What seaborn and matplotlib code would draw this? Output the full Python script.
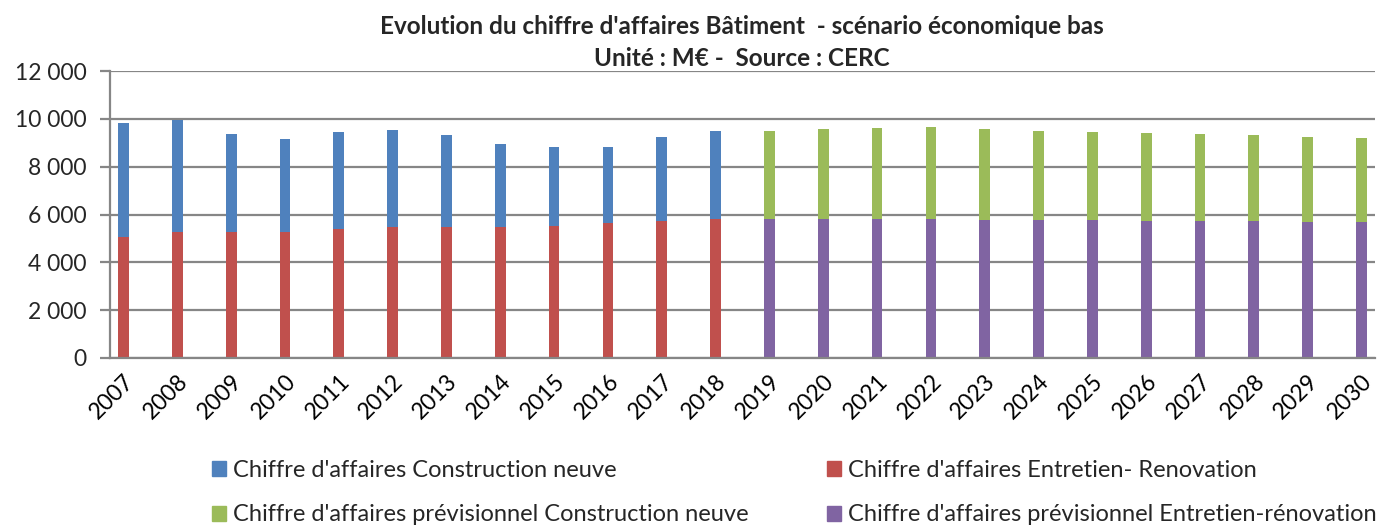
import numpy as np
import pandas as pd
import seaborn as sns
import matplotlib.pyplot as plt
from matplotlib.patches import Patch
from matplotlib.ticker import FuncFormatter

# data (M€)
years = [str(y) for y in range(2007, 2031)]
hist_reno = [5040, 5250, 5280, 5280, 5390, 5460, 5460, 5460, 5530, 5630, 5740, 5810]
hist_neuf = [4780, 4710, 4070, 3890, 4080, 4070, 3860, 3470, 3300, 3180, 3480, 3690]
prev_reno = [5810, 5810, 5810, 5810, 5760, 5760, 5760, 5720, 5720, 5720, 5680, 5680]
prev_neuf = [3700, 3750, 3790, 3830, 3800, 3750, 3710, 3670, 3630, 3590, 3540, 3500]

lbl_neuf = "Chiffre d'affaires Construction neuve"
lbl_reno = "Chiffre d'affaires Entretien- Renovation"
lbl_prev_neuf = "Chiffre d'affaires prévisionnel Construction neuve"
lbl_prev_reno = "Chiffre d'affaires prévisionnel Entretien-rénovation"

BLUE, RED, GREEN, PURPLE = "#4F81BD", "#C0504D", "#9BBB59", "#8064A2"
GRAY = "#868686"

sns.set_theme(style="white")
plt.rcParams["font.family"] = ["Lato", "DejaVu Sans"]

df = pd.DataFrame({
    "annee": years,
    "reno": hist_reno + prev_reno,
    "neuf": hist_neuf + prev_neuf,
    "periode": ["hist"] * len(hist_reno) + ["prev"] * len(prev_reno),
})
df["total"] = df["reno"] + df["neuf"]

fig = plt.figure(figsize=(14, 5.27), dpi=100)
ax = fig.add_axes([110 / 1400, 1 - 358 / 527, 1265 / 1400, 287 / 527])

# stacked bars: total first, then the renovation part on top of it
sns.barplot(data=df, x="annee", y="total", hue="periode", order=years,
            palette={"hist": BLUE, "prev": GREEN}, dodge=False, width=0.2,
            saturation=1, errorbar=None, linewidth=0, legend=False, ax=ax)
sns.barplot(data=df, x="annee", y="reno", hue="periode", order=years,
            palette={"hist": RED, "prev": PURPLE}, dodge=False, width=0.2,
            saturation=1, errorbar=None, linewidth=0, legend=False, ax=ax)

ax.set_xlim(-0.25, 23.25)
ax.set_ylim(0, 12000)
ax.set_yticks(range(0, 12001, 2000))
ax.yaxis.set_major_formatter(FuncFormatter(lambda v, p: f"{int(v):,}".replace(",", " ")))
ax.set_xlabel("")
ax.set_ylabel("")

ax.set_axisbelow(True)
ax.grid(axis="y", color=GRAY, linewidth=1.6)
for s in ["top", "right"]:
    ax.spines[s].set_visible(False)
for s in ["left", "bottom"]:
    ax.spines[s].set_color(GRAY)
    ax.spines[s].set_linewidth(1.6)

ax.set_xticks(range(len(years)))
ax.set_xticklabels(years, rotation=45, ha="right", rotation_mode="anchor")
ax.set_xticks(np.arange(-0.25, 23.26, 0.5), minor=True)
ax.tick_params(axis="x", which="major", length=0, pad=9, labelsize=16.5, colors="black")
ax.tick_params(axis="x", which="minor", length=7, width=1.6, color=GRAY, direction="out")
ax.tick_params(axis="y", length=7, width=1.6, color=GRAY, direction="out", pad=10,
               labelsize=16.5, left=True)

fig.text(742 / 1400, 1 - 27 / 527, "Evolution du chiffre d'affaires Bâtiment  - scénario économique bas",
         ha="center", va="center", fontsize=17.5, fontweight="bold")
fig.text(742 / 1400, 1 - 58 / 527, "Unité : M€ -  Source : CERC",
         ha="center", va="center", fontsize=17.5, fontweight="bold")

handles = [Patch(color=BLUE), Patch(color=GREEN), Patch(color=RED), Patch(color=PURPLE)]
labels = [lbl_neuf, lbl_prev_neuf, lbl_reno, lbl_prev_reno]
fig.legend(handles, labels, ncol=2, loc="upper left", bbox_to_anchor=(200 / 1400, 1 - 448 / 527),
           frameon=False, fontsize=17, handlelength=0.6, handleheight=0.6,
           handletextpad=0.3, columnspacing=3.3, labelspacing=1.0, borderpad=0)

fig.savefig("out.png", dpi=100)
